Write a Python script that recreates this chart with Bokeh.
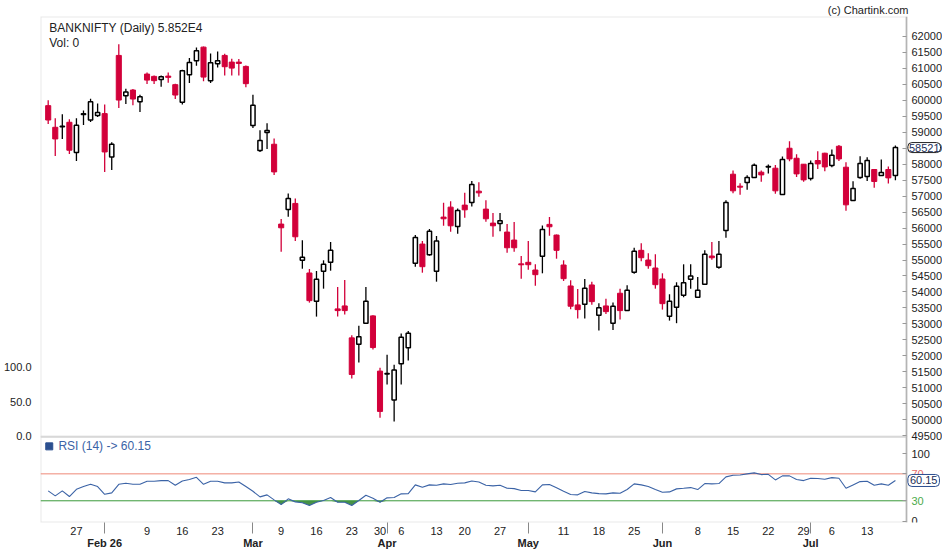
import numpy as np
from bokeh.plotting import figure
from bokeh.models import (Range1d, LinearAxis, FixedTicker, Label, ColumnDataSource, Title,
                          BoxAnnotation)
from bokeh.embed import file_html
from bokeh.resources import INLINE

# ---------------- data (daily candles, index = trading day) ----------------
opens = [59834, 59156, 59170, 59313, 58366, 59560, 59384, 59522, 59584, 58228,
         61406, 60147, 60322, 59959, 60822, 60750, 60656, 60759, 60491, 59938,
         60803, 61241, 61666, 60616, 61147, 61406, 61197, 61197, 61062, 59209,
         58428, 58991, 58625, 56125, 56584, 56772, 54991, 54594, 53709, 54647,
         54928, 53469, 53562, 52563, 52366, 53022, 53250, 51522, 51430, 50616,
         51750, 52250, 54897, 55500, 55166, 54647, 56344, 56656, 56053, 56719,
         56803, 57156, 56594, 56156, 56147, 55875, 55625, 54880, 54928, 54687,
         55116, 56116, 55781, 54844, 54187, 53594, 53616, 54219, 53272, 53562,
         53022, 53959, 53416, 54616, 55303, 55000, 54750, 54406, 53241, 53522,
         53897, 54397, 53834, 54241, 55125, 54772, 55928, 57687, 57312, 57428,
         57584, 57750, 57910, 57875, 57053, 58500, 58187, 58000, 57553, 58116,
         58344, 57959, 58562, 57906, 56866, 57584, 57616, 57834, 57647, 57834,
         57647]
highs = [60000, 59438, 59563, 59406, 59438, 59678, 60053, 59897, 59866, 58687,
         61759, 60366, 60353, 60178, 60875, 60781, 60781, 60875, 60520, 60960,
         61322, 61656, 61688, 61469, 61531, 61459, 61303, 61291, 61094, 60178,
         59062, 59281, 58803, 56281, 57084, 56928, 55616, 54719, 54656, 54991,
         55562, 54156, 54375, 52647, 52938, 54156, 53272, 51625, 52031, 51719,
         52697, 52781, 55781, 55594, 55969, 55750, 56791, 56844, 56616, 57103,
         57478, 57437, 56875, 56469, 56469, 56125, 56187, 55125, 55594, 54866,
         56084, 56344, 55800, 54991, 54366, 54094, 54406, 54322, 53647, 53791,
         53666, 54103, 54209, 55384, 55522, 55209, 55178, 54584, 53928, 54303,
         54866, 54866, 54469, 55303, 55562, 55594, 56875, 57803, 57406, 57656,
         58022, 57803, 57991, 57978, 58241, 58719, 58312, 58010, 58116, 58406,
         58360, 58459, 58603, 58062, 57469, 58250, 58219, 57850, 58147, 57928,
         58584]
lows = [59259, 58259, 58791, 58322, 58103, 59228, 59322, 59478, 57759, 57822,
        59759, 59884, 59844, 59634, 60509, 60509, 60428, 60553, 60041, 59866,
        60541, 61084, 60594, 60541, 61031, 60781, 60781, 60781, 60406, 59134,
        58384, 58478, 57666, 55259, 56353, 55594, 54728, 53666, 53228, 54103,
        54666, 53228, 53291, 51291, 51791, 53010, 52197, 50063, 51103, 49947,
        51103, 51853, 54791, 54603, 55134, 54322, 56072, 55884, 55822, 56322,
        56678, 56978, 56197, 55728, 55897, 55228, 55259, 54416, 54697, 54197,
        54584, 55759, 55041, 54344, 53459, 53166, 53166, 53603, 52791, 53312,
        52812, 53134, 53400, 54572, 54959, 54728, 54103, 53447, 53103, 53022,
        53834, 54103, 53820, 54230, 55009, 54728, 55697, 57094, 57041, 57197,
        57570, 57447, 57709, 57072, 57040, 58094, 57603, 57447, 57491, 57853,
        57781, 57906, 58103, 56541, 56850, 57541, 57478, 57259, 57630, 57397,
        57500]
closes = [59384, 58791, 59190, 58438, 59219, 59580, 59959, 59616, 58384, 58625,
          60009, 60259, 60041, 60116, 60634, 60616, 60741, 60719, 60166, 60928,
          61188, 61553, 60728, 61178, 61241, 61053, 61009, 61156, 60522, 59844,
          58741, 59053, 57759, 56009, 56928, 55728, 55084, 53728, 54397, 54866,
          55303, 53416, 53416, 51416, 52594, 53709, 52259, 50259, 51445, 51553,
          52584, 52709, 55709, 54791, 55897, 55594, 56291, 56072, 56553, 56572,
          57366, 57103, 56291, 56072, 56228, 55384, 55384, 54850, 54853, 54541,
          55959, 56041, 55303, 54416, 53553, 53447, 54116, 53697, 53509, 53384,
          53553, 53416, 54053, 55272, 55072, 54822, 54228, 53634, 53709, 54178,
          54291, 54500, 54053, 55178, 55072, 55178, 56803, 57166, 57281, 57584,
          57969, 57666, 57925, 57166, 58147, 58166, 57697, 57509, 58022, 58009,
          57916, 58281, 58166, 56728, 57241, 58022, 58116, 57459, 57741, 57572,
          58521]
rsi = [44.7, 37.3, 44.7, 36.3, 47.1, 51.1, 54.5, 51.1, 39.7, 41.8,
       54.5, 56.0, 54.5, 54.5, 59.0, 59.0, 60.0, 60.0, 53.0, 59.5,
       61.5, 64.9, 54.5, 59.0, 59.0, 56.6, 56.6, 58.0, 51.1, 44.1,
       35.8, 38.8, 31.4, 24.4, 32.9, 28.4, 27.0, 23.0, 27.9, 30.4,
       34.8, 27.9, 27.9, 23.0, 30.4, 38.2, 33.8, 27.9, 34.4, 34.8,
       40.3, 40.7, 53.6, 50.1, 53.6, 53.0, 55.1, 54.1, 56.0, 56.6,
       59.5, 58.0, 53.0, 52.1, 53.0, 48.6, 48.1, 45.2, 45.2, 43.2,
       53.6, 54.1, 49.2, 44.1, 39.3, 38.8, 43.7, 41.8, 40.7, 40.3,
       41.8, 41.2, 46.7, 55.1, 53.6, 51.1, 46.7, 42.7, 43.2, 47.7,
       48.6, 49.6, 46.7, 55.6, 55.1, 55.6, 65.5, 67.9, 68.4, 69.9,
       71.4, 68.9, 69.3, 61.0, 67.0, 67.0, 61.5, 60.0, 63.4, 63.0,
       61.9, 64.4, 63.4, 48.6, 53.6, 58.5, 59.0, 53.0, 55.1, 53.0,
       60.15]

day_tick_idx = [4, 14, 19, 24, 33, 38, 43, 47, 50, 55, 59, 64, 73, 78, 83, 92, 97, 102, 107, 111, 116]
day_tick_labels = ["27", "9", "16", "23", "9", "16", "23", "30", "6", "13", "20", "27",
                   "11", "18", "25", "8", "15", "22", "29", "6", "13"]
month_tick_idx = [8, 29, 48, 68, 87, 108]
month_tick_labels = ["Feb 26", "Mar", "Apr", "May", "Jun", "Jul"]
price_ticks = list(range(49500, 62001, 500))
vol_ticks = [0, 50, 100]
vol_tick_labels = ["0.0", "50.0", "100.0"]
rsi_ticks = [0, 100]
rsi_low, rsi_high = 30, 70

symbol = "BANKNIFTY (Daily) 5.852E4"
vol_text = "Vol: 0"
rsi_text = "RSI (14) -> 60.15"
credit = "(c) Chartink.com"
last_price = closes[-1]
last_rsi = rsi[-1]

# ---------------- styling ----------------
FONT = "Liberation Sans"
RED = "#d2003a"
GRAY = "#b4b4b4"
TXT = "#222222"
BLUE = "#3b63a6"

# one frame holds the price panel (top) and the RSI panel (bottom)
X0, X1 = -1.09, 126.67          # index range over the whole frame (axis sits inside it)
AXIS_X = 121.57                 # where the right-hand axes stand
P0, P1 = 46781.25, 62625.0      # price scale over the whole frame
R0, R1 = -2.22, 748.9           # RSI scale over the whole frame
V0, V1 = -125.65, 609.1         # volume scale over the whole frame
PANEL_SPLIT = 49468.75          # price value at the panel separator

o = np.array(opens, float); h = np.array(highs, float)
l = np.array(lows, float); c = np.array(closes, float)
idx = np.arange(len(c))
up = c >= o
dn = ~up

p = figure(width=942, height=551, x_range=Range1d(X0, X1), y_range=Range1d(P0, P1),
           output_backend="svg", toolbar_location=None,
           x_axis_location=None, y_axis_location="right",
           min_border_left=40, min_border_right=0, min_border_top=15, min_border_bottom=29,
           outline_line_color=None, background_fill_color="white", border_fill_color="white")
p.grid.visible = False
p.extra_y_ranges = {"vol": Range1d(V0, V1), "rsi": Range1d(R0, R1)}

p.title = Title(text=credit, align="right", text_font=FONT, text_font_size="11px",
                text_font_style="normal", text_color=TXT, standoff=2, offset=34)

# panel boxes (price panel and RSI panel)
p.add_layout(BoxAnnotation(left=X0, right=AXIS_X, bottom=PANEL_SPLIT, top=P1,
                           fill_alpha=0, line_color=GRAY, line_width=2, level="underlay"))
p.add_layout(BoxAnnotation(left=X0, right=AXIS_X, bottom=P0, top=PANEL_SPLIT,
                           fill_alpha=0, line_color=GRAY, line_width=2, level="underlay"))


def right_axis(ax, ticks, color, line=True):
    ax.ticker = FixedTicker(ticks=ticks)
    ax.fixed_location = AXIS_X
    ax.major_tick_in = 4
    ax.major_tick_out = 0
    ax.minor_tick_in = 0
    ax.minor_tick_out = 0
    ax.axis_line_color = GRAY if line else None
    ax.axis_line_width = 1.5
    ax.major_tick_line_color = "#999999"
    ax.major_label_standoff = 5
    ax.major_label_text_font = FONT
    ax.major_label_text_font_size = "11px"
    ax.major_label_text_color = color


right_axis(p.yaxis[0], price_ticks, TXT)
ax_rsi = LinearAxis(y_range_name="rsi")
right_axis(ax_rsi, rsi_ticks, TXT, line=False)
p.add_layout(ax_rsi, "right")
ax_rsi_hi = LinearAxis(y_range_name="rsi")
right_axis(ax_rsi_hi, [rsi_high], "#e46a6a", line=False)
p.add_layout(ax_rsi_hi, "right")
ax_rsi_lo = LinearAxis(y_range_name="rsi")
right_axis(ax_rsi_lo, [rsi_low], "#4caa4c", line=False)
p.add_layout(ax_rsi_lo, "right")

va = LinearAxis(y_range_name="vol", ticker=FixedTicker(ticks=vol_ticks),
                major_label_overrides=dict(zip(vol_ticks, vol_tick_labels)),
                axis_line_color=None, major_tick_line_color=None, minor_tick_line_color=None,
                major_label_standoff=3, major_label_text_font=FONT,
                major_label_text_font_size="11px", major_label_text_color=TXT)
p.add_layout(va, "left")

# candles
src_up = ColumnDataSource(dict(x=idx[up], top=c[up], bottom=o[up], high=h[up], low=l[up]))
src_dn = ColumnDataSource(dict(x=idx[dn], top=o[dn], bottom=c[dn], high=h[dn], low=l[dn]))
p.segment(x0="x", y0="low", x1="x", y1="high", source=src_dn, line_color=RED, line_width=1.3)
p.vbar(x="x", width=0.72, top="top", bottom="bottom", source=src_dn,
       fill_color=RED, line_color=RED, line_width=1)
p.segment(x0="x", y0="low", x1="x", y1="high", source=src_up, line_color="black", line_width=1.3)
p.vbar(x="x", width=0.6, top="top", bottom="bottom", source=src_up,
       fill_color="white", line_color="black", line_width=1.5)

p.add_layout(Label(x=0.15, y=62250, text=symbol, text_font=FONT, text_font_size="12px",
                   text_color=TXT, text_baseline="middle"))
p.add_layout(Label(x=0.15, y=61781, text=vol_text, text_font=FONT, text_font_size="12px",
                   text_color=TXT, text_baseline="middle"))

# RSI panel
rs = np.array(rsi, float)
p.varea(x=idx, y1=np.minimum(rs, rsi_low), y2=rsi_low, y_range_name="rsi",
        fill_color="#3d8b3d", fill_alpha=0.95)
p.varea(x=idx, y1=rsi_high, y2=np.maximum(rs, rsi_high), y_range_name="rsi",
        fill_color="#e06060", fill_alpha=0.8)
p.segment(x0=[X0, X0], x1=[AXIS_X, AXIS_X], y0=[rsi_high, rsi_low], y1=[rsi_high, rsi_low],
          y_range_name="rsi", line_color=["#ee8877", "#3a9a3a"], line_width=1)
p.line(idx, rs, y_range_name="rsi", line_color=BLUE, line_width=1.1)

p.scatter(x=[0.15], y=[110.8], y_range_name="rsi", marker="square", size=7,
          fill_color="#2b4f8f", line_color="#2b4f8f")
p.add_layout(Label(x=1.45, y=110.8, y_range_name="rsi", text=rsi_text, text_font=FONT,
                   text_font_size="12px", text_color=BLUE, text_baseline="middle"))

# boxed current values beside the axes
p.add_layout(Label(x=AXIS_X + 0.2, y=last_price, text=f"{last_price:.0f}", text_font=FONT,
                   text_font_size="11px", text_color="#1c2f5a", text_baseline="middle",
                   background_fill_color="white", border_line_color="#222222",
                   border_line_width=1, padding=1, border_radius=4, level="overlay"))
p.add_layout(Label(x=AXIS_X + 0.2, y=last_rsi, y_range_name="rsi",
                   text=f"{last_rsi:.2f}", text_font=FONT,
                   text_font_size="11px", text_color="#1c2f5a", text_baseline="middle",
                   background_fill_color="white", border_line_color="#2a4d8f",
                   border_line_width=1, padding=2, border_radius=4, level="overlay"))

# bottom date axes
ax_days = LinearAxis(ticker=FixedTicker(ticks=day_tick_idx, minor_ticks=month_tick_idx),
                     major_label_overrides=dict(zip(day_tick_idx, day_tick_labels)),
                     axis_line_color=None, major_tick_in=0, major_tick_out=0,
                     major_tick_line_color=None,
                     minor_tick_in=-11, minor_tick_out=0, minor_tick_line_color="#888888",
                     major_label_standoff=4, major_label_text_font=FONT,
                     major_label_text_font_size="11px", major_label_text_color=TXT)
ax_months = LinearAxis(ticker=FixedTicker(ticks=month_tick_idx),
                       major_label_overrides=dict(zip(month_tick_idx, month_tick_labels)),
                       axis_line_color=None, major_tick_line_color=None, minor_tick_line_color=None,
                       major_label_standoff=-7, major_label_text_font=FONT,
                       major_label_text_font_size="11px", major_label_text_font_style="bold",
                       major_label_text_color=TXT)
p.add_layout(ax_days, "below")
p.add_layout(ax_months, "below")

open("out.html", "w").write(file_html(p, INLINE))
